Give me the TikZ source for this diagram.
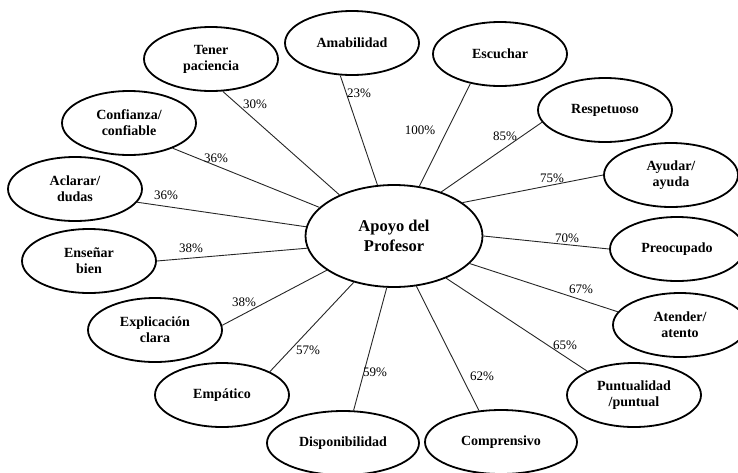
\documentclass[tikz,border=0pt]{standalone}
\usepackage{fontspec}
\setmainfont{Liberation Serif}
\usetikzlibrary{shapes.geometric}
\begin{document}
\begin{tikzpicture}[x=1pt,y=-1pt,
 bub/.style={ellipse,draw=black,line width=1.8pt,minimum width=134pt,minimum height=64pt,inner sep=0pt,align=center,font=\fontsize{14}{16}\selectfont\bfseries},
 widebub/.style={bub,minimum width=152pt},
 hub/.style={bub,minimum width=177pt,minimum height=102pt,font=\fontsize{16.5}{20}\selectfont\bfseries},
 link/.style={draw=black!85,line width=0.9pt},
 pct/.style={inner sep=0pt,font=\fontsize{13}{15}\selectfont}]
\useasboundingbox (0,0) rectangle (738,472);
\node[hub] (main) at (394,236) {Apoyo del\\Profesor};
\node[bub] (tener) at (211,59) {Tener\\paciencia};
\node[bub] (amab) at (352,43) {Amabilidad};
\node[bub] (escu) at (500,54) {Escuchar};
\node[bub] (resp) at (605,110) {Respetuoso};
\node[bub] (ayud) at (671,175) {Ayudar/\\ayuda};
\node[bub] (preo) at (677,249) {Preocupado};
\node[bub] (aten) at (680,325) {Atender/\\atento};
\node[bub] (punt) at (634,395) {Puntualidad\\/puntual};
\node[widebub] (comp) at (501,442) {Comprensivo};
\node[widebub] (disp) at (343,443) {Disponibilidad};
\node[bub] (empa) at (222,395) {Empático};
\node[bub] (expl) at (155,330) {Explicación\\clara};
\node[bub] (ense) at (89,261) {Enseñar\\bien};
\node[bub] (acla) at (75,189) {Aclarar/\\dudas};
\node[bub] (conf) at (129,123) {Confianza/\\confiable};
\draw[link] (main.143.8) -- (tener.-70);
\draw[link] (main.108.8) -- (amab.-110.6);
\draw[link] (main.63.9) -- (escu.-135.9);
\draw[link] (main.43.3) -- (resp.-169);
\draw[link] (main.26.9) -- (ayud.180);
\draw[link] (main.-0.7) -- (preo.180);
\draw[link] (main.-20.5) -- (aten.168);
\draw[link] (main.-39.6) -- (punt.153.4);
\draw[link] (main.-66.5) -- (comp.125);
\draw[link] (main.-98.9) -- (disp.72);
\draw[link] (main.-131.7) -- (empa.26.6);
\draw[link] (main.-153.4) -- (expl.4.3);
\draw[link] (main.-172) -- (ense.0);
\draw[link] (main.174.7) -- (acla.-12.4);
\draw[link] (main.159) -- (conf.-30.6);
\node[pct] (p30) at (255,104) {30\%};
\node[pct] (p23) at (359,93) {23\%};
\node[pct] (p100) at (420,130) {100\%};
\node[pct] (p85) at (505,136) {85\%};
\node[pct] (p75) at (552,178) {75\%};
\node[pct] (p70) at (567,238) {70\%};
\node[pct] (p67) at (581,289) {67\%};
\node[pct] (p65) at (565,345) {65\%};
\node[pct] (p62) at (482,376) {62\%};
\node[pct] (p59) at (375,372) {59\%};
\node[pct] (p57) at (308,350) {57\%};
\node[pct] (p38b) at (244,302) {38\%};
\node[pct] (p38a) at (191,248) {38\%};
\node[pct] (p36a) at (166,195) {36\%};
\node[pct] (p36b) at (216,158) {36\%};
\end{tikzpicture}
\end{document}
